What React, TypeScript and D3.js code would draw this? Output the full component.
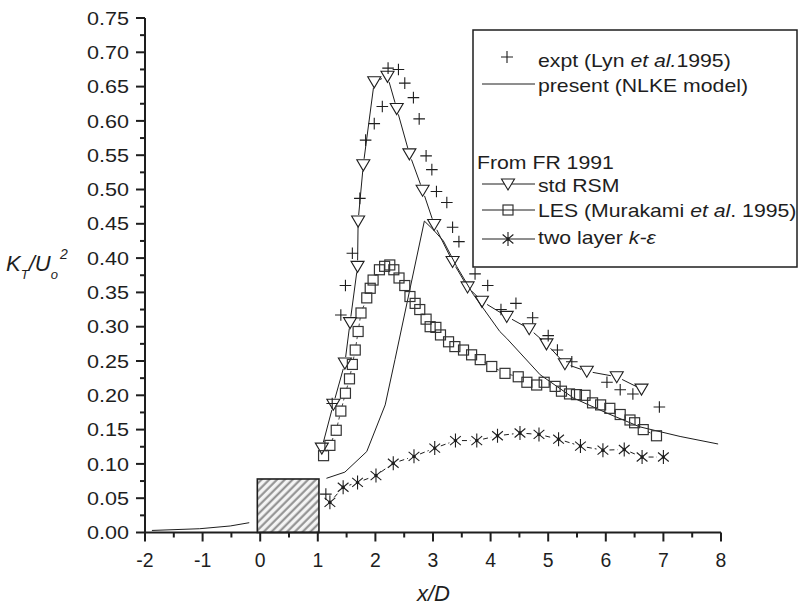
import React from 'react';
import * as d3 from 'd3';

type P = [number, number];

// expt (Lyn et al. 1995)
const EXPT: P[] = [
  [1.14, 0.056], [1.25, 0.188], [1.40, 0.317], [1.48, 0.360], [1.60, 0.407], [1.73, 0.487],
  [1.83, 0.572], [1.98, 0.596], [2.12, 0.621], [2.22, 0.677], [2.40, 0.675], [2.51, 0.655],
  [2.66, 0.634], [2.76, 0.603], [2.88, 0.549], [2.98, 0.529], [3.06, 0.497], [3.24, 0.481],
  [3.34, 0.445], [3.45, 0.424], [3.73, 0.377], [3.95, 0.360], [4.18, 0.325], [4.44, 0.334],
  [4.73, 0.313], [5.00, 0.287], [5.16, 0.266], [5.41, 0.249], [6.02, 0.219], [6.25, 0.208],
  [6.47, 0.202], [6.93, 0.183],
];

// present (NLKE model), upstream and downstream parts
const NLKE_UP: P[] = [[-1.88, 0.003], [-1.05, 0.0055], [-0.52, 0.0095], [-0.19, 0.0143]];
const NLKE_DOWN: P[] = [
  [1.15, 0.079], [1.47, 0.088], [1.85, 0.118], [2.17, 0.186], [2.34, 0.252], [2.85, 0.454],
  [3.01, 0.441], [3.18, 0.425], [3.41, 0.388], [3.70, 0.347], [4.16, 0.293], [4.28, 0.283],
  [4.86, 0.230], [5.44, 0.196], [6.02, 0.174], [6.59, 0.154], [7.29, 0.140], [7.95, 0.129],
];

// std RSM (FR 1991)
const RSM: P[] = [
  [1.07, 0.123], [1.27, 0.187], [1.47, 0.247], [1.56, 0.306], [1.69, 0.388], [1.70, 0.454],
  [1.79, 0.536], [1.98, 0.657], [2.21, 0.665], [2.37, 0.618], [2.59, 0.552], [2.82, 0.499],
  [3.02, 0.449], [3.34, 0.395], [3.60, 0.358], [3.85, 0.337], [4.28, 0.315], [4.67, 0.297],
  [4.97, 0.275], [5.29, 0.246], [5.67, 0.235], [6.19, 0.227], [6.62, 0.209],
];

// LES (Murakami et al. 1995)
const LES: P[] = [
  [1.10, 0.112], [1.21, 0.127], [1.32, 0.149], [1.40, 0.177], [1.48, 0.203], [1.55, 0.224],
  [1.60, 0.245], [1.65, 0.266], [1.70, 0.293], [1.75, 0.320], [1.85, 0.342], [1.91, 0.356],
  [1.96, 0.368], [2.07, 0.383], [2.16, 0.388], [2.25, 0.390], [2.32, 0.383], [2.41, 0.371],
  [2.51, 0.360], [2.60, 0.344], [2.69, 0.334], [2.77, 0.325], [2.88, 0.311], [2.95, 0.300],
  [3.05, 0.299], [3.13, 0.288], [3.27, 0.278], [3.38, 0.271], [3.53, 0.266], [3.67, 0.259],
  [3.82, 0.252], [4.02, 0.242], [4.25, 0.232], [4.48, 0.227], [4.63, 0.219], [4.80, 0.215],
  [4.93, 0.219], [5.12, 0.213], [5.23, 0.206], [5.37, 0.202], [5.49, 0.201], [5.64, 0.200],
  [5.77, 0.189], [5.91, 0.186], [6.07, 0.181], [6.25, 0.172], [6.42, 0.164], [6.50, 0.160],
  [6.65, 0.150], [6.88, 0.141],
];

// two layer k-epsilon (FR 1991)
const TWO_LAYER: P[] = [
  [1.21, 0.044], [1.44, 0.066], [1.69, 0.073], [2.01, 0.083], [2.31, 0.101], [2.67, 0.111],
  [3.03, 0.123], [3.39, 0.134], [3.76, 0.134], [4.12, 0.141], [4.51, 0.145], [4.84, 0.143],
  [5.18, 0.136], [5.56, 0.126], [5.95, 0.120], [6.32, 0.121], [6.63, 0.110], [7.00, 0.110],
];

// cylinder: x0, x1, height
const CYLINDER = { x0: -0.05, x1: 1.02, top: 0.078 };

const X_TICKS = [-2, -1, 0, 1, 2, 3, 4, 5, 6, 7, 8];
const X_TICK_LABELS = ['-2', '-1', '0', '1', '2', '3', '4', '5', '6', '7', '8'];
const X_MINOR = [-1.5, -0.5, 0.5, 1.5, 2.5, 3.5, 4.5, 5.5, 6.5, 7.5];
const Y_TICKS = [0, 0.05, 0.1, 0.15, 0.2, 0.25, 0.3, 0.35, 0.4, 0.45, 0.5, 0.55, 0.6, 0.65, 0.7, 0.75];
const Y_TICK_LABELS = ['0.00', '0.05', '0.10', '0.15', '0.20', '0.25', '0.30', '0.35', '0.40', '0.45', '0.50', '0.55', '0.60', '0.65', '0.70', '0.75'];
const Y_MINOR = [0.025, 0.075, 0.125, 0.175, 0.225, 0.275, 0.325, 0.375, 0.425, 0.475, 0.525, 0.575, 0.625, 0.675, 0.725];

const W = 809;
const H = 605;
const FONT = '"Liberation Sans", Arial, Helvetica, sans-serif';
const INK = '#1e1e1e';

const xs = d3.scaleLinear().domain([-2, 8]).range([145, 721]);
const ys = d3.scaleLinear().domain([0, 0.75]).range([532.5, 18]);

function gapSegments(pts: P[], gap: number): string {
  const px = pts.map((d) => [xs(d[0]), ys(d[1])]);
  let s = '';
  for (let i = 0; i < px.length - 1; i++) {
    const [x0, y0] = px[i];
    const [x1, y1] = px[i + 1];
    const dx = x1 - x0, dy = y1 - y0;
    const len = Math.hypot(dx, dy);
    if (len <= gap * 2) continue;
    const ux = dx / len, uy = dy / len;
    s += `M${x0 + ux * gap},${y0 + uy * gap}L${x1 - ux * gap},${y1 - uy * gap}`;
  }
  return s;
}

const plusPath = (cx: number, cy: number, r = 5.8) => `M${cx - r},${cy}H${cx + r}M${cx},${cy - r}V${cy + r}`;
const triPath = (cx: number, cy: number) => `M${cx - 6.5},${cy - 5}L${cx + 6.5},${cy - 5}L${cx},${cy + 6}Z`;
const starPath = (cx: number, cy: number, r = 7) => {
  let s = '';
  [90, 40, 140].forEach((a) => {
    const rad = (a * Math.PI) / 180;
    const dx = Math.cos(rad) * r, dy = Math.sin(rad) * r;
    s += `M${cx - dx},${cy - dy}L${cx + dx},${cy + dy}`;
  });
  return s;
};

// advance widths (px) of tick label glyphs at 19.5px
const glyphW = (s: string) => s.split('').reduce((a, c) => a + (c === '-' ? 6.5 : c === '.' ? 5.4 : 10.8), 0);

export default function App() {
  const line = d3.line<P>().x((d) => xs(d[0])).y((d) => ys(d[1]));

  const legendText = (tx: number, ty: number, children: React.ReactNode) => (
    <g transform={`translate(${tx},${ty}) scale(1.18,1)`}>
      <text x={0} y={0} fontSize={18} fontFamily={FONT} fill={INK}>{children}</text>
    </g>
  );

  return (
    <svg width={W} height={H} style={{ position: 'absolute', left: 0, top: 0, background: '#fff' }}>
      <defs>
        <pattern id="hatch" patternUnits="userSpaceOnUse" width={5.5} height={5.5} patternTransform="rotate(45)">
          <rect width={5.5} height={5.5} fill="#f4f4f4" />
          <line x1={1.5} y1={0} x2={1.5} y2={5.5} stroke="#8a8a8a" strokeWidth={2} />
        </pattern>
      </defs>

      {/* cylinder */}
      <rect
        x={xs(CYLINDER.x0)}
        y={ys(CYLINDER.top)}
        width={xs(CYLINDER.x1) - xs(CYLINDER.x0)}
        height={ys(0) - ys(CYLINDER.top)}
        fill="url(#hatch)"
        stroke={INK}
        strokeWidth={1.6}
      />

      {/* NLKE */}
      <path d={line(NLKE_UP) || ''} fill="none" stroke={INK} strokeWidth={1} />
      <path d={line(NLKE_DOWN) || ''} fill="none" stroke={INK} strokeWidth={1} />

      {/* RSM */}
      <path d={gapSegments(RSM, 6)} fill="none" stroke={INK} strokeWidth={1} />
      {RSM.map((d, i) => (
        <path key={'t' + i} d={triPath(xs(d[0]), ys(d[1]))} fill="none" stroke={INK} strokeWidth={1.1} />
      ))}

      {/* LES */}
      <path d={gapSegments(LES, 5)} fill="none" stroke="#444" strokeWidth={1} strokeDasharray="3,3" />
      {LES.map((d, i) => (
        <rect key={'s' + i} x={xs(d[0]) - 5} y={ys(d[1]) - 5} width={10} height={10} fill="none" stroke="#333" strokeWidth={1.2} />
      ))}

      {/* two layer */}
      <path d={gapSegments(TWO_LAYER, 6.5)} fill="none" stroke={INK} strokeWidth={1} strokeDasharray="5,3" />
      {TWO_LAYER.map((d, i) => (
        <g key={'k' + i}>
          <path d={starPath(xs(d[0]), ys(d[1]))} fill="none" stroke={INK} strokeWidth={1.1} />
          <circle cx={xs(d[0])} cy={ys(d[1])} r={1.7} fill={INK} />
        </g>
      ))}

      {/* expt */}
      {EXPT.map((d, i) => (
        <path key={'p' + i} d={plusPath(xs(d[0]), ys(d[1]))} fill="none" stroke={INK} strokeWidth={1.1} />
      ))}

      {/* axes */}
      <line x1={xs(-2)} y1={ys(0)} x2={xs(8)} y2={ys(0)} stroke={INK} strokeWidth={2} />
      <line x1={xs(-2)} y1={ys(0)} x2={xs(-2)} y2={ys(0.75)} stroke={INK} strokeWidth={2} />
      {X_TICKS.map((v, i) => (
        <g key={'xt' + i}>
          <line x1={xs(v)} x2={xs(v)} y1={ys(0)} y2={ys(0) + 9} stroke={INK} strokeWidth={2} />
          <text
            x={xs(v) - glyphW(X_TICK_LABELS[i]) / 2}
            y={567}
            fontSize={19.5}
            fontFamily={FONT}
            fill={INK}
            textLength={glyphW(X_TICK_LABELS[i])}
            lengthAdjust="spacingAndGlyphs"
          >
            {X_TICK_LABELS[i]}
          </text>
        </g>
      ))}
      {X_MINOR.map((v, i) => (
        <line key={'xm' + i} x1={xs(v)} x2={xs(v)} y1={ys(0)} y2={ys(0) + 5} stroke={INK} strokeWidth={2} />
      ))}
      {Y_TICKS.map((v, i) => (
        <g key={'yt' + i}>
          <line x1={xs(-2) - 9} x2={xs(-2)} y1={ys(v)} y2={ys(v)} stroke={INK} strokeWidth={2} />
          <text
            x={87}
            y={ys(v) + 6.6}
            fontSize={18.5}
            fontFamily={FONT}
            fill={INK}
            textLength={42}
            lengthAdjust="spacingAndGlyphs"
          >
            {Y_TICK_LABELS[i]}
          </text>
        </g>
      ))}
      {Y_MINOR.map((v, i) => (
        <line key={'ym' + i} x1={xs(-2) - 5} x2={xs(-2)} y1={ys(v)} y2={ys(v)} stroke={INK} strokeWidth={2} />
      ))}

      {/* axis titles */}
      <text x={417} y={601} fontSize={22} fontStyle="italic" fontFamily={FONT} fill={INK}>x/D</text>
      <text x={6} y={271} fontSize={22} fontStyle="italic" fontFamily={FONT} fill={INK}>
        K<tspan dy={8} fontSize={13}>T</tspan><tspan dy={-8} fontSize={22}>/U</tspan><tspan dy={8} fontSize={13}>o</tspan><tspan dx={2} dy={-20} fontSize={14}>2</tspan>
      </text>

      {/* legend */}
      <rect x={473} y={30} width={324} height={237} fill="#fff" stroke={INK} strokeWidth={1.5} />
      <path d={plusPath(507, 57, 6)} stroke={INK} strokeWidth={1.1} />
      {legendText(538, 67, <>expt (Lyn <tspan fontStyle="italic">et al.</tspan>1995)</>)}
      <line x1={482} x2={535} y1={84} y2={84} stroke={INK} strokeWidth={1} />
      {legendText(538, 92, <>present (NLKE model)</>)}
      {legendText(477, 169, <>From FR 1991</>)}
      <line x1={482} x2={535} y1={184} y2={184} stroke={INK} strokeWidth={1} />
      <path d={triPath(508, 184)} fill="#fff" stroke={INK} strokeWidth={1.1} />
      {legendText(538, 192, <>std RSM</>)}
      <line x1={482} x2={535} y1={210} y2={210} stroke={INK} strokeWidth={1} />
      <rect x={503} y={205} width={10} height={10} fill="#fff" stroke="#333" strokeWidth={1.2} />
      <line x1={503} x2={513} y1={210} y2={210} stroke={INK} strokeWidth={1} />
      {legendText(538, 217, <>LES (Murakami <tspan fontStyle="italic">et al</tspan>. 1995)</>)}
      <line x1={482} x2={535} y1={239} y2={239} stroke={INK} strokeWidth={1} />
      <path d={starPath(508, 239)} fill="none" stroke={INK} strokeWidth={1.1} />
      <circle cx={508} cy={239} r={1.7} fill={INK} />
      {legendText(538, 244, <>two layer <tspan fontStyle="italic">k-ε</tspan></>)}
    </svg>
  );
}
